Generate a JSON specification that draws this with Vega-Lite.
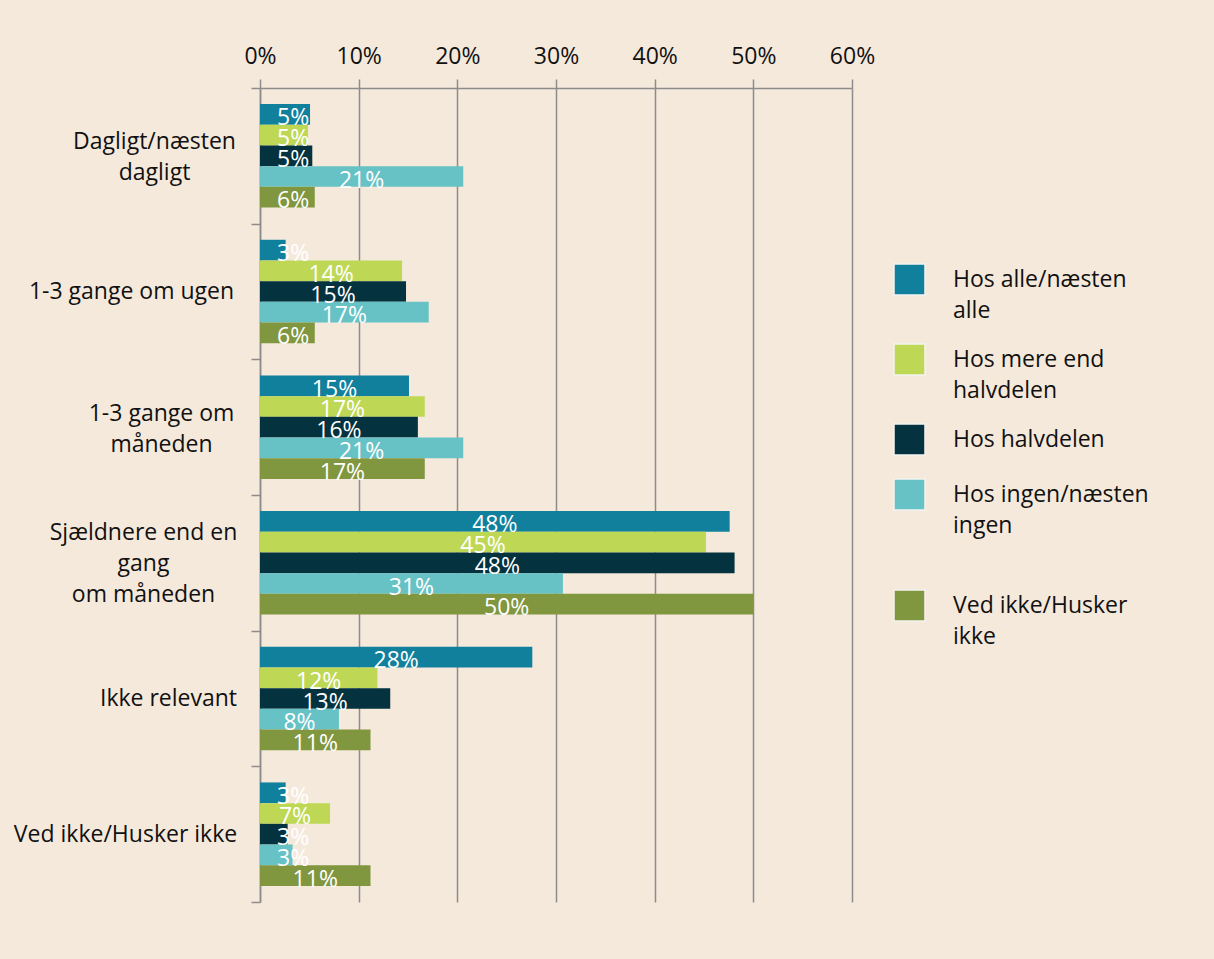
{
  "$schema": "https://vega.github.io/schema/vega-lite/v6.json",
  "autosize": {"type": "none"},
  "width": 592,
  "height": 814,
  "padding": {"left": 260, "top": 88, "right": 362, "bottom": 57},
  "background": "#F5E9DC",
  "config": {
    "view": {"stroke": null},
    "font": "Open Sans",
    "style": {"guide-label": {"lineHeight": 31}}
  },
  "data": {
    "values": [
      {"cat": "Dagligt/næsten dagligt", "series": "Hos alle/næsten alle", "value": 0.0507},
      {"cat": "Dagligt/næsten dagligt", "series": "Hos mere end halvdelen", "value": 0.0486},
      {"cat": "Dagligt/næsten dagligt", "series": "Hos halvdelen", "value": 0.053},
      {"cat": "Dagligt/næsten dagligt", "series": "Hos ingen/næsten ingen", "value": 0.206},
      {"cat": "Dagligt/næsten dagligt", "series": "Ved ikke/Husker ikke", "value": 0.0555},
      {"cat": "1-3 gange om ugen", "series": "Hos alle/næsten alle", "value": 0.026},
      {"cat": "1-3 gange om ugen", "series": "Hos mere end halvdelen", "value": 0.144},
      {"cat": "1-3 gange om ugen", "series": "Hos halvdelen", "value": 0.148},
      {"cat": "1-3 gange om ugen", "series": "Hos ingen/næsten ingen", "value": 0.171},
      {"cat": "1-3 gange om ugen", "series": "Ved ikke/Husker ikke", "value": 0.0555},
      {"cat": "1-3 gange om måneden", "series": "Hos alle/næsten alle", "value": 0.151},
      {"cat": "1-3 gange om måneden", "series": "Hos mere end halvdelen", "value": 0.167},
      {"cat": "1-3 gange om måneden", "series": "Hos halvdelen", "value": 0.16},
      {"cat": "1-3 gange om måneden", "series": "Hos ingen/næsten ingen", "value": 0.206},
      {"cat": "1-3 gange om måneden", "series": "Ved ikke/Husker ikke", "value": 0.167},
      {"cat": "Sjældnere end en gang om måneden", "series": "Hos alle/næsten alle", "value": 0.476},
      {"cat": "Sjældnere end en gang om måneden", "series": "Hos mere end halvdelen", "value": 0.452},
      {"cat": "Sjældnere end en gang om måneden", "series": "Hos halvdelen", "value": 0.481},
      {"cat": "Sjældnere end en gang om måneden", "series": "Hos ingen/næsten ingen", "value": 0.307},
      {"cat": "Sjældnere end en gang om måneden", "series": "Ved ikke/Husker ikke", "value": 0.5},
      {"cat": "Ikke relevant", "series": "Hos alle/næsten alle", "value": 0.276},
      {"cat": "Ikke relevant", "series": "Hos mere end halvdelen", "value": 0.119},
      {"cat": "Ikke relevant", "series": "Hos halvdelen", "value": 0.132},
      {"cat": "Ikke relevant", "series": "Hos ingen/næsten ingen", "value": 0.08},
      {"cat": "Ikke relevant", "series": "Ved ikke/Husker ikke", "value": 0.112},
      {"cat": "Ved ikke/Husker ikke", "series": "Hos alle/næsten alle", "value": 0.026},
      {"cat": "Ved ikke/Husker ikke", "series": "Hos mere end halvdelen", "value": 0.071},
      {"cat": "Ved ikke/Husker ikke", "series": "Hos halvdelen", "value": 0.028},
      {"cat": "Ved ikke/Husker ikke", "series": "Hos ingen/næsten ingen", "value": 0.033},
      {"cat": "Ved ikke/Husker ikke", "series": "Ved ikke/Husker ikke", "value": 0.112}
    ]
  },
  "encoding": {
    "y": {
      "field": "cat",
      "type": "nominal",
      "sort": null,
      "scale": {"paddingInner": 0, "paddingOuter": 0},
      "axis": {
        "title": null,
        "orient": "left",
        "tickBand": "extent",
        "tickSize": 9,
        "tickColor": "#8c8c8c",
        "tickWidth": 1.5,
        "domainColor": "#8c8c8c",
        "domainWidth": 1.5,
        "labelFont": "Open Sans",
        "labelFontSize": 23,
        "labelColor": "#111111",
        "labelAlign": "center",
        "labelLimit": 400,
        "labelExpr": "datum.label == 'Dagligt/næsten dagligt' ? ['Dagligt/næsten', 'dagligt'] : datum.label == '1-3 gange om måneden' ? ['1-3 gange om', 'måneden'] : datum.label == 'Sjældnere end en gang om måneden' ? ['Sjældnere end en', 'gang', 'om måneden'] : datum.label",
        "labelOffset": {
          "condition": [
            {"test": "datum.value == 'Dagligt/næsten dagligt'", "value": -14},
            {"test": "datum.value == '1-3 gange om måneden'", "value": -14},
            {"test": "datum.value == 'Sjældnere end en gang om måneden'", "value": -30}
          ],
          "value": 0
        },
        "labelPadding": {
          "condition": [
            {"test": "datum.value == 'Dagligt/næsten dagligt'", "value": 97},
            {"test": "datum.value == '1-3 gange om ugen'", "value": 120},
            {"test": "datum.value == '1-3 gange om måneden'", "value": 90},
            {"test": "datum.value == 'Sjældnere end en gang om måneden'", "value": 108},
            {"test": "datum.value == 'Ikke relevant'", "value": 83}
          ],
          "value": 126
        }
      }
    },
    "yOffset": {
      "field": "series",
      "type": "nominal",
      "sort": ["Hos alle/næsten alle", "Hos mere end halvdelen", "Hos halvdelen", "Hos ingen/næsten ingen", "Ved ikke/Husker ikke"],
      "scale": {"paddingInner": 0, "paddingOuter": 0.778}
    }
  },
  "layer": [
    {
      "mark": {"type": "bar"},
      "encoding": {
        "x": {
          "field": "value",
          "type": "quantitative",
          "scale": {"domain": [0, 0.6], "nice": false},
          "axis": {
            "orient": "top",
            "title": null,
            "values": [0, 0.1, 0.2, 0.3, 0.4, 0.5, 0.6],
            "format": ".0%",
            "labelFlush": false,
            "labelOverlap": false,
            "grid": true,
            "gridColor": "#8c8c8c",
            "gridWidth": 1.5,
            "gridOpacity": 1,
            "tickColor": "#8c8c8c",
            "tickWidth": 1.5,
            "tickSize": 9,
            "domainColor": "#8c8c8c",
            "domainWidth": 1.5,
            "labelFont": "Open Sans",
            "labelFontSize": 23,
            "labelColor": "#111111",
            "labelPadding": 11
          }
        },
        "color": {
          "field": "series",
          "type": "nominal",
          "sort": ["Hos alle/næsten alle", "Hos mere end halvdelen", "Hos halvdelen", "Hos ingen/næsten ingen", "Ved ikke/Husker ikke"],
          "scale": {
            "domain": ["Hos alle/næsten alle", "Hos mere end halvdelen", "Hos halvdelen", "Hos ingen/næsten ingen", "Ved ikke/Husker ikke"],
            "range": ["#10809D", "#BED856", "#05323F", "#67C2C6", "#80963F"]
          },
          "legend": {
            "title": null,
            "orient": "none",
            "legendX": 633,
            "legendY": 175,
            "padding": 0,
            "symbolType": "square",
            "symbolSize": 961,
            "symbolStrokeColor": "#f4f4f0",
            "symbolStrokeWidth": 1.5,
            "symbolOpacity": 1,
            "labelFont": "Open Sans",
            "labelFontSize": 23,
            "labelColor": "#111111",
            "labelLimit": 400,
            "labelOffset": 27,
            "labelBaseline": "middle",
            "rowPadding": 18,
            "labelExpr": "datum.label == 'Hos alle/næsten alle' ? ['Hos alle/næsten', 'alle'] : datum.label == 'Hos mere end halvdelen' ? ['Hos mere end', 'halvdelen'] : datum.label == 'Hos ingen/næsten ingen' ? ['Hos ingen/næsten', 'ingen', ''] : datum.label == 'Ved ikke/Husker ikke' ? ['Ved ikke/Husker', 'ikke'] : datum.label"
          }
        }
      }
    },
    {
      "transform": [{"calculate": "max(datum.value / 2, 0.0335)", "as": "mid"}],
      "mark": {"type": "text", "color": "#ffffff", "font": "Open Sans", "fontSize": 23, "baseline": "middle", "dy": 4},
      "encoding": {
        "x": {"field": "mid", "type": "quantitative"},
        "text": {"field": "value", "type": "quantitative", "format": ".0%"}
      }
    }
  ]
}
